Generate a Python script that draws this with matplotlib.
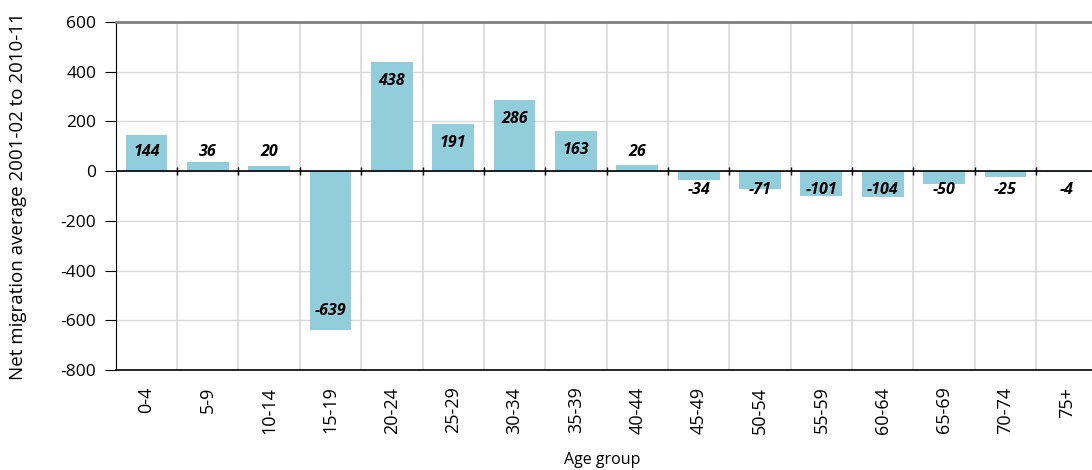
import numpy as np
import matplotlib
matplotlib.use("Agg")
import matplotlib.pyplot as plt

age_groups = ["0-4", "5-9", "10-14", "15-19", "20-24", "25-29", "30-34", "35-39",
              "40-44", "45-49", "50-54", "55-59", "60-64", "65-69", "70-74", "75+"]
net_migration = [144, 36, 20, -639, 438, 191, 286, 163, 26, -34, -71, -101, -104, -50, -25, -4]

plt.rcParams['font.family'] = ['Open Sans', 'DejaVu Sans']
plt.rcParams['axes.unicode_minus'] = False

fig = plt.figure(figsize=(10.92, 4.70), dpi=100)
ax = fig.add_axes([0.106, 0.213, 0.899, 0.740])

x = np.arange(len(age_groups))
ax.bar(x, net_migration, width=0.68, color="#92CDDC", zorder=3)

# value labels: inside the end of the bar, pushed out of the zero line when short
for xi, v in zip(x, net_migration):
    if v >= 0:
        ly = max(v - 76, 76)
    else:
        ly = min(v + 76, -76)
    ax.text(xi, ly, str(v), ha="center", va="center", fontsize=11.5,
            fontweight="bold", fontstyle="italic", color="black", zorder=5)

ax.set_xlim(-0.5, len(age_groups) - 0.5)
ax.set_ylim(-800, 600)
ax.set_yticks(np.arange(-800, 601, 200))
ax.set_xticks(x)
ax.set_xticklabels(age_groups, rotation=90, fontsize=13)
ax.tick_params(axis="y", labelsize=12.5, length=8, color="black", pad=6)
ax.tick_params(axis="x", length=0, pad=12)

# grid
ax.set_axisbelow(True)
ax.yaxis.grid(True, color="#D9D9D9", lw=1, zorder=0)
for b in np.arange(len(age_groups)) + 0.5:
    ax.axvline(b, color="#D9D9D9", lw=1.2, zorder=1)

# zero line with small boundary ticks
ax.axhline(0, color="black", lw=1.2, zorder=4)
ax.vlines(np.arange(len(age_groups)) + 0.5, -15, 15, color="black", lw=1, zorder=4)

ax.spines["right"].set_visible(False)
ax.spines["top"].set_color("#808080")
ax.spines["top"].set_linewidth(2)
ax.spines["left"].set_color("black")
ax.spines["bottom"].set_color("black")
ax.spines["bottom"].set_linewidth(1.2)

ax.set_ylabel("Net migration average 2001-02 to 2010-11", fontsize=13.5)
ax.yaxis.set_label_coords(-0.0995, 0.5)
ax.yaxis.label.set_va("center")
ax.set_xlabel("Age group", fontsize=11.5)
ax.xaxis.set_label_coords(0.495, -0.259)
ax.xaxis.label.set_va("center")

fig.savefig("out.png", dpi=100)
